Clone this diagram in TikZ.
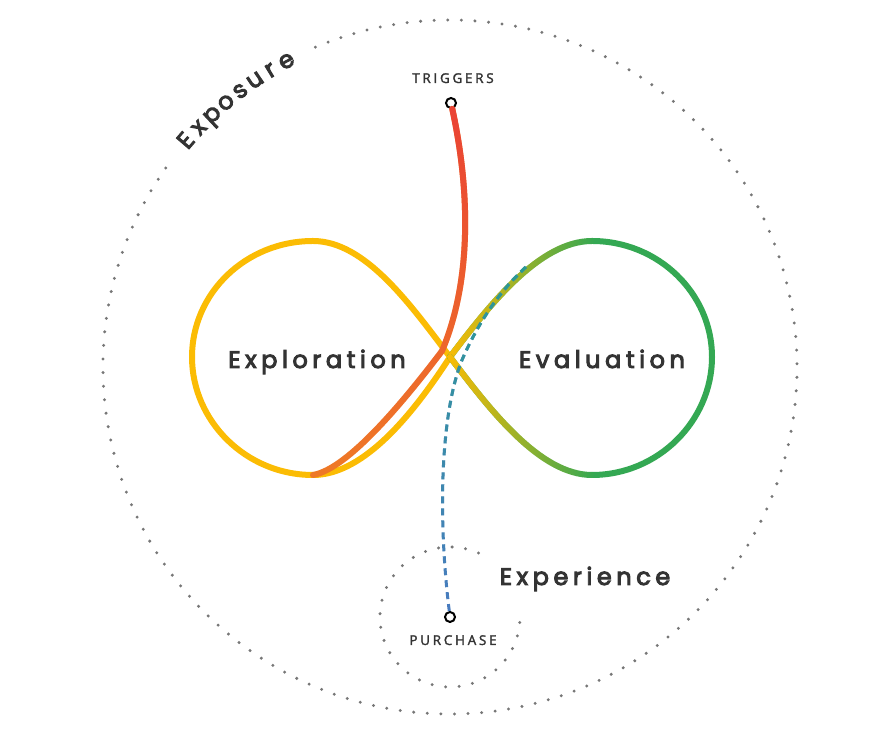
\documentclass[tikz,border=0pt]{standalone}
\usepackage{fontspec}
\setmainfont{Poppins}
\newfontfamily\wordfont[LetterSpace=19, FakeBold=4]{Poppins}
\newfontfamily\arcfont[FakeBold=4]{Poppins}
\newfontfamily\tagfont[LetterSpace=20, FakeBold=2]{Open Sans}
\usetikzlibrary{fadings}
\definecolor{gyellow}{HTML}{FBBC04}
\definecolor{ggreen}{HTML}{34A853}
\definecolor{gred}{HTML}{EA4335}
\definecolor{gorange}{HTML}{EF7A27}
\definecolor{gblue}{HTML}{4A7CC0}
\definecolor{gteal}{HTML}{2A9B92}
\definecolor{ink}{HTML}{333333}
\definecolor{dotgray}{HTML}{777777}
\tikzfading[name=fade right, left color=transparent!0, right color=transparent!100]
\tikzfading[name=fade down, top color=transparent!0, bottom color=transparent!100]
\tikzset{
  loopline/.style={line width=6pt, line cap=round},
  dotring/.style={dotgray, line width=3.3pt, line cap=round, dash pattern=on 0pt off 13.6pt},
  dashline/.style={line width=3pt, dash pattern=on 7pt off 5pt},
  bigword/.style={ink, font=\wordfont\fontsize{24}{24}\selectfont, anchor=base},
  arcletter/.style={ink, font=\arcfont\fontsize{24}{24}\selectfont, anchor=base, inner sep=0pt},
  tag/.style={ink, font=\tagfont\fontsize{13.5}{13.5}\selectfont, anchor=base},
  endpt/.style={circle, draw=black, fill=white, line width=2pt, inner sep=0pt, minimum size=10pt},
}
\begin{document}
\begin{tikzpicture}[x=1pt, y=1pt]
\useasboundingbox (0,0) rectangle (887,735);

% the two rings
\draw[dotring] (450,368) ++(145:347) arc[start angle=145, end angle=473, radius=347];
\draw[dotring] (450,118) ++(66:70) arc[start angle=66, end angle=363, radius=70];

% the loop
\coordinate (x) at (450,378);
\coordinate (ltop) at (313,494);
\coordinate (lft) at (192,378);
\coordinate (lbot) at (313,260);
\coordinate (rtop) at (592,494);
\coordinate (rgt) at (712,378);
\coordinate (rbot) at (592,260);
\coordinate (bend) at (442,384);
\coordinate (merge) at (527,469);

\draw[loopline, gyellow] (x) .. controls (410,431) and (365,494) .. (ltop)
  .. controls (246,494) and (192,442) .. (lft)
  .. controls (192,314) and (246,260) .. (lbot)
  .. controls (365,260) and (415,324) .. (x);
\draw[loopline, ggreen] (rtop) .. controls (658,494) and (712,442) .. (rgt)
  .. controls (712,314) and (658,260) .. (rbot);
\draw[loopline, ggreen] (x) .. controls (490,431) and (540,494) .. (rtop);
\draw[loopline, gyellow, path fading=fade right] (x) .. controls (490,431) and (540,494) .. (rtop);
\draw[loopline, ggreen] (rbot) .. controls (540,260) and (490,325) .. (x);
\draw[loopline, gyellow, path fading=fade right] (rbot) .. controls (540,260) and (490,325) .. (x);

% end points
\node[endpt] (trig) at (451,632) {};
\node[endpt] (purch) at (450,118) {};

\draw[loopline, gorange] (trig) .. controls (470,545) and (472,455) .. (bend)
  .. controls (404,334) and (348,266) .. (lbot);
\draw[loopline, gred, path fading=fade down] (trig) .. controls (470,545) and (472,455) .. (bend)
  .. controls (404,334) and (348,266) .. (lbot);

\draw[dashline, gblue] (purch) .. controls (438,215) and (440,320) .. (462,375)
  .. controls (475,405) and (495,440) .. (merge);
\draw[dashline, gteal, path fading=fade down] (purch) .. controls (438,215) and (440,320) .. (462,375)
  .. controls (475,405) and (495,440) .. (merge);

% labels
\node[tag] (trigtxt) at (453,652) {TRIGGERS};
\node[tag] (purchtxt) at (453,90) {PURCHASE};
\node[bigword] (explore) at (317,367) {Exploration};
\node[bigword] (evaluate) at (602,367) {Evaluation};
\node[bigword] (experience) at (585,150) {Experience};
\begin{scope}[shift={(450,368)}]
\foreach \ch [count=\i from 0] in {E,x,p,o,s,u,r,e}{
  \pgfmathsetmacro\a{139.4-\i*3.04}
  \node[arcletter, rotate=\a-90] (expo\i) at (\a:340) {\ch};
}
\end{scope}
\end{tikzpicture}
\end{document}
